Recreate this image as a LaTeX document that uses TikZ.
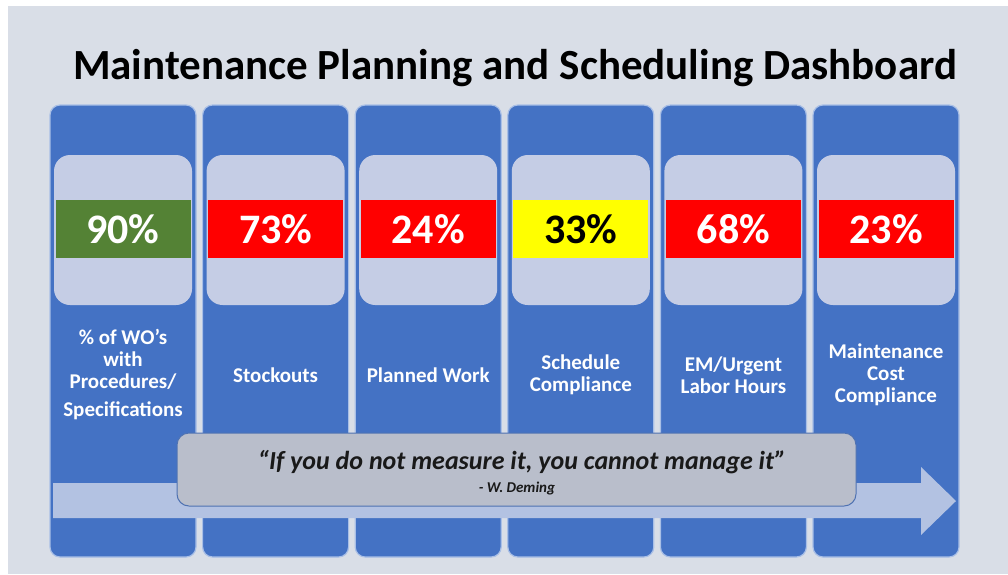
\documentclass[tikz,border=0pt]{standalone}
\usepackage{fontspec}
\setmainfont{Carlito}
\definecolor{bgGrey}{HTML}{D9DEE7}
\definecolor{colBlue}{HTML}{4472C4}
\definecolor{colEdge}{HTML}{A9BFE6}
\definecolor{panelBlue}{HTML}{C5CDE5}
\definecolor{arrowBlue}{HTML}{B3C2E2}
\definecolor{quoteGrey}{HTML}{B9BECB}
\definecolor{quoteEdge}{HTML}{4F72B2}
\definecolor{barGreen}{HTML}{548235}
\definecolor{barRed}{HTML}{FF0000}
\definecolor{barYellow}{HTML}{FFFF00}
\tikzset{
	colbox/.style={draw=colEdge,line width=1.2pt,fill=colBlue,rounded corners=10pt,minimum width=146pt,minimum height=452pt,inner sep=0pt},
	panelbox/.style={fill=panelBlue,rounded corners=16pt,minimum width=138pt,minimum height=150pt,inner sep=0pt},
	kpibar/.style={minimum width=135pt,minimum height=58pt,inner sep=0pt,text=white,font=\bfseries\fontsize{42}{48}\selectfont},
	kpiname/.style={text=white,align=center,font=\bfseries\fontsize{21}{22}\selectfont},
	quotebox/.style={draw=quoteEdge,line width=1pt,fill=quoteGrey,rounded corners=12pt,minimum width=679pt,minimum height=73pt,inner sep=0pt}
}
\begin{document}
\begin{tikzpicture}[x=1pt,y=-1pt]
		\fill[white] (0,0) rectangle (1008,574);
		\fill[bgGrey] (8,6) rectangle (1008,574);
		\node[font=\bfseries\fontsize{43}{50}\selectfont] (title) at (515,68) {Maintenance Planning and Scheduling Dashboard};
		\node[colbox] (col1) at (123,331) {};
		\node[colbox] (col2) at (275.6,331) {};
		\node[colbox] (col3) at (428.2,331) {};
		\node[colbox] (col4) at (580.8,331) {};
		\node[colbox] (col5) at (733.4,331) {};
		\node[colbox] (col6) at (886,331) {};
		\node[panelbox] (panel1) at (123,230) {};
		\node[panelbox] (panel2) at (275.6,230) {};
		\node[panelbox] (panel3) at (428.2,230) {};
		\node[panelbox] (panel4) at (580.8,230) {};
		\node[panelbox] (panel5) at (733.4,230) {};
		\node[panelbox] (panel6) at (886,230) {};
		\node[kpibar,fill=barGreen] (wo) at (123,229) {90\%};
		\node[kpibar,fill=barRed] (stock) at (275.6,229) {73\%};
		\node[kpibar,fill=barRed] (planned) at (428.2,229) {24\%};
		\node[kpibar,fill=barYellow,text=black] (sched) at (580.8,229) {33\%};
		\node[kpibar,fill=barRed] (urgent) at (733.4,229) {68\%};
		\node[kpibar,fill=barRed] (cost) at (886,229) {23\%};
		\node[kpiname] (woname) at (123,375) {\% of WO's\\with\\Procedures/\\[6pt]Specifications};
		\node[kpiname] (stockname) at (275.6,375) {Stockouts};
		\node[kpiname] (plannedname) at (428.2,375) {Planned Work};
		\node[kpiname] (schedname) at (580.8,375) {Schedule\\Compliance};
		\node[kpiname] (urgentname) at (733.4,375) {EM/Urgent\\Labor Hours};
		\node[kpiname] (costname) at (886,375) {Maintenance\\Cost\\Compliance};
		\fill[arrowBlue] (53,483) -- (921,483) -- (921,467) -- (956,501) -- (921,535) -- (921,518) -- (53,518) -- cycle;
		\node[quotebox] (quote) at (516.5,469.5) {};
		\node[font=\bfseries\itshape\fontsize{26}{30}\selectfont,text=black!90] (saying) at (522,462) {“If you do not measure it, you cannot manage it”};
		\node[font=\bfseries\itshape\fontsize{15}{18}\selectfont,text=black!90] (author) at (517,488) {- W. Deming};
\end{tikzpicture}
\end{document}
